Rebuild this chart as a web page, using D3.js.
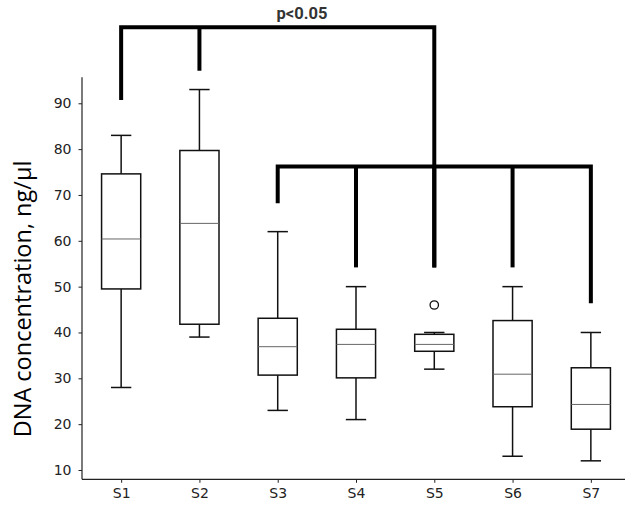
<!DOCTYPE html>
<html>
<head>
<meta charset="utf-8">
<script src="https://cdn.jsdelivr.net/npm/d3@7"></script>
<style>
  html, body { margin: 0; padding: 0; background: #fff; }
  svg { display: block; }
</style>
</head>
<body>
<svg id="chart" width="625" height="505"></svg>
<script>
// ---- data ----
const categories   = ["S1", "S2", "S3", "S4", "S5", "S6", "S7"];
const whiskerLow   = [28, 39, 23, 21, 32, 13, 12];
const q1Values     = [49.5, 41.8, 30.7, 30.1, 35.9, 23.8, 18.9];
const medianValues = [60.4, 63.8, 36.9, 37.4, 37.4, 30.9, 24.3];
const q3Values     = [74.6, 79.7, 43.1, 40.7, 39.6, 42.6, 32.3];
const whiskerHigh  = [83, 93, 62, 50, 40, 50, 40];
const outlierCats  = ["S5"];
const outlierVals  = [46];
const yTicks       = [10, 20, 30, 40, 50, 60, 70, 80, 90];
const yLabel       = "DNA concentration, ng/µl";
const pLabel       = "p<0.05";
// significance brackets: level and leg end values
const topBracketLevel = 106.6;
const topBracketCats  = ["S1", "S2", "S5"];
const topBracketEnds  = [90.7, 97.1, 54.2];
const midBracketLevel = 76.2;
const midBracketCats  = ["S3", "S4", "S5", "S6", "S7"];
const midBracketEnds  = [68.2, 54.2, 54.2, 54.2, 46.4];

// ---- layout ----
const svg = d3.select("#chart");
const x = d3.scaleLinear().domain([0.5, 7.5]).range([82, 630]);
const xc = c => x(categories.indexOf(c) + 1);
const y = d3.scaleLinear().domain([7.97, 95.67]).range([479.3, 77.3]);
const step = x(2) - x(1);
const boxW = step * 0.5;
const capW = boxW * 0.52;

const data = categories.map((c, i) => ({
  c, lo: whiskerLow[i], q1: q1Values[i], med: medianValues[i], q3: q3Values[i], hi: whiskerHigh[i]
}));

// axes
const yAxis = d3.axisLeft(y).tickValues(yTicks).tickSize(3.5).tickPadding(7).tickSizeOuter(0);
const gy = svg.append("g").attr("transform", "translate(82,0)").call(yAxis);
const xAxis = d3.axisBottom(x).tickValues(categories.map((c, i) => i + 1))
  .tickFormat((d) => categories[d - 1]).tickSize(3.5).tickPadding(5).tickSizeOuter(0);
const gx = svg.append("g").attr("transform", "translate(0,479.3)").call(xAxis);
[gx, gy].forEach(g => {
  g.select(".domain").attr("stroke", "#222").attr("stroke-width", 1.2);
  g.selectAll(".tick line").attr("stroke", "#222").attr("stroke-width", 1);
  g.selectAll(".tick text").attr("fill", "#222")
    .style("font-family", "'DejaVu Sans', sans-serif").style("font-size", "14px");
});
gy.select(".domain").attr("d", `M0,${y.range()[0]}V${y.range()[1]}`);
gx.select(".domain").attr("d", `M${x.range()[0]},0H${x.range()[1]}`);

// boxes
const g = svg.append("g").attr("stroke", "#111").attr("fill", "none");
const boxes = g.selectAll("g.box").data(data).join("g").attr("class", "box");
boxes.append("line") // lower whisker
  .attr("x1", d => xc(d.c)).attr("x2", d => xc(d.c))
  .attr("y1", d => y(d.q1)).attr("y2", d => y(d.lo)).attr("stroke-width", 1.5);
boxes.append("line") // upper whisker
  .attr("x1", d => xc(d.c)).attr("x2", d => xc(d.c))
  .attr("y1", d => y(d.q3)).attr("y2", d => y(d.hi)).attr("stroke-width", 1.5);
boxes.append("line")
  .attr("x1", d => xc(d.c) - capW / 2).attr("x2", d => xc(d.c) + capW / 2)
  .attr("y1", d => y(d.lo)).attr("y2", d => y(d.lo)).attr("stroke-width", 1.5);
boxes.append("line")
  .attr("x1", d => xc(d.c) - capW / 2).attr("x2", d => xc(d.c) + capW / 2)
  .attr("y1", d => y(d.hi)).attr("y2", d => y(d.hi)).attr("stroke-width", 1.5);
boxes.append("rect")
  .attr("x", d => xc(d.c) - boxW / 2).attr("width", boxW)
  .attr("y", d => y(d.q3)).attr("height", d => y(d.q1) - y(d.q3))
  .attr("fill", "#fff").attr("stroke-width", 1.5);
boxes.append("line")
  .attr("x1", d => xc(d.c) - boxW / 2).attr("x2", d => xc(d.c) + boxW / 2)
  .attr("y1", d => y(d.med)).attr("y2", d => y(d.med))
  .attr("stroke", "#666").attr("stroke-width", 1);

// outliers
g.selectAll("circle.out").data(outlierCats.map((c, i) => ({ c, v: outlierVals[i] })))
  .join("circle").attr("class", "out")
  .attr("cx", d => xc(d.c)).attr("cy", d => y(d.v)).attr("r", 4.2)
  .attr("fill", "none").attr("stroke", "#111").attr("stroke-width", 1.3);

// brackets
function drawBracket(level, cats, ends) {
  const b = svg.append("g").attr("stroke", "#000").attr("stroke-width", 4).attr("fill", "none");
  const first = cats[0], last = cats[cats.length - 1];
  b.append("path")
    .attr("d", `M${xc(first)},${y(ends[0])}V${y(level)}H${xc(last)}V${y(ends[ends.length - 1])}`)
    .attr("stroke-linejoin", "miter");
  cats.slice(1, -1).forEach((c, i) => {
    b.append("line").attr("x1", xc(c)).attr("x2", xc(c))
      .attr("y1", y(level)).attr("y2", y(ends[i + 1]));
  });
}
drawBracket(topBracketLevel, topBracketCats, topBracketEnds);
drawBracket(midBracketLevel, midBracketCats, midBracketEnds);

// p label
svg.append("text").attr("x", 302).attr("y", 18.5).attr("text-anchor", "middle")
  .style("font-family", "Roboto, sans-serif").style("font-weight", "bold")
  .style("font-size", "16.5px").attr("fill", "#333").text(pLabel);

// y label
svg.append("text").attr("transform", "translate(31,299) rotate(-90)")
  .attr("text-anchor", "middle")
  .style("font-family", "'Open Sans', sans-serif").style("font-size", "23.5px")
  .attr("fill", "#000").text(yLabel);
</script>
</body>
</html>
